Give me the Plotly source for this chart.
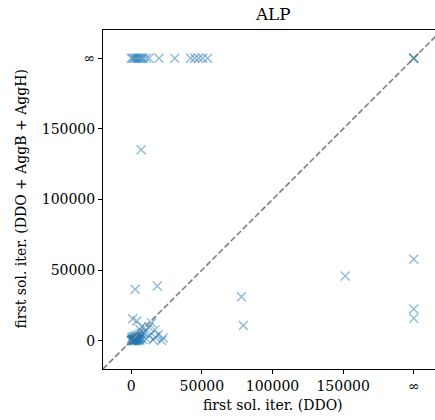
import plotly.graph_objects as go

# "infinity" stands for runs that never found a solution
INF = 200000

# first-solution iteration counts: DDO alone (x) vs DDO + AggB + AggH (y)
ddo_iters = [
    0, 1000, 2100, 3000, 4200, 5000, 6300, 7500, 8400, 10500, 12600,
    19600, 30800, 42000, 44900, 47700, 50500, 54000,
    INF, INF, INF,
    7000,
    2800, 18400, 78000, 79400, 151400, INF, INF, INF,
    1000, 4000, 14500, 16800, 19100, 22600, 11000, 7500, 15400, 21500,
    12500, 9000, 6000, 17000, 13000, 10500,
    0, 500, 1200, 1800, 2500, 3200, 4000, 4800, 5500, 6200, 7000, 8000,
    300, 900, 1500, 2200, 2900, 3600, 4400, 5200, 6000, 6800,
    0, 700, 1400, 2000, 2700, 3400, 4100, 5000, 5800, 1000, 2400, 3800,
]
combo_iters = [
    INF, INF, INF, INF, INF, INF, INF, INF, INF, INF, INF,
    INF, INF, INF, INF, INF, INF, INF,
    INF, INF, INF,
    135200,
    36400, 38700, 31200, 10800, 45800, 57700, 22500, 16000,
    15500, 14000, 12500, 7700, 4200, 1900, 7700, 10100, 700, 200,
    9800, 5500, 8000, 2500, 3500, 1500,
    0, 300, 600, 200, 900, 400, 1200, 700, 1600, 500, 2200, 1000,
    1800, 2600, 1300, 3200, 2000, 3800, 2500, 4300, 3000, 4800,
    0, 100, 0, 500, 0, 200, 800, 0, 1400, 1000, 2200, 3000,
]

tick_vals = [0, 50000, 100000, 150000, INF]
tick_text = ["0", "50000", "100000", "150000", "∞"]

lo, hi = -20000, 220000
font = "DejaVu Serif"
blue = "rgba(31,119,180,0.5)"

fig = go.Figure()
fig.add_trace(go.Scatter(
    x=ddo_iters, y=combo_iters, mode="markers",
    marker=dict(symbol="x-thin-open", size=9,
                line=dict(color=blue, width=1.4), color=blue),
    cliponaxis=True, showlegend=False, hoverinfo="skip",
))
fig.add_trace(go.Scatter(
    x=[lo, hi], y=[lo, hi], mode="lines",
    line=dict(color="#808080", width=1.6, dash="6px,2.6px"),
    showlegend=False, hoverinfo="skip",
))

W, H = 435, 420
ml, mr, mt, mb = 103, 0, 30, 51
plot_h = H - mt - mb
units_per_px = (hi - lo) / plot_h
x_hi = lo + (W - ml - mr) * units_per_px

axis_common = dict(
    tickmode="array", tickvals=tick_vals, ticktext=tick_text,
    ticks="outside", ticklen=4, tickwidth=1, tickcolor="black",
    showgrid=False, zeroline=False, showline=True, linecolor="black",
    linewidth=1, tickfont=dict(family=font, size=14, color="#000"),
)

fig.update_layout(
    width=W, height=H,
    margin=dict(l=ml, r=mr, t=mt, b=mb),
    paper_bgcolor="white", plot_bgcolor="white",
    xaxis=dict(range=[lo, x_hi], mirror=True, **axis_common),
    yaxis=dict(range=[lo, hi], **axis_common),
    annotations=[
        dict(text="ALP", x=(lo + hi) / 2, xref="x", y=1, yref="paper",
             yanchor="bottom", yshift=4, showarrow=False,
             font=dict(family=font, size=16.7, color="#000")),
        dict(text="first sol. iter. (DDO)", x=(lo + hi) / 2, xref="x",
             y=0, yref="paper", yanchor="top", yshift=-26, showarrow=False,
             font=dict(family=font, size=14, color="#000")),
        dict(text="first sol. iter. (DDO + AggB + AggH)", x=0, xref="paper",
             xshift=-83, xanchor="center", y=0.5, yref="paper",
             textangle=-90, showarrow=False,
             font=dict(family=font, size=14, color="#000")),
    ],
)

fig.write_html("out.html")
